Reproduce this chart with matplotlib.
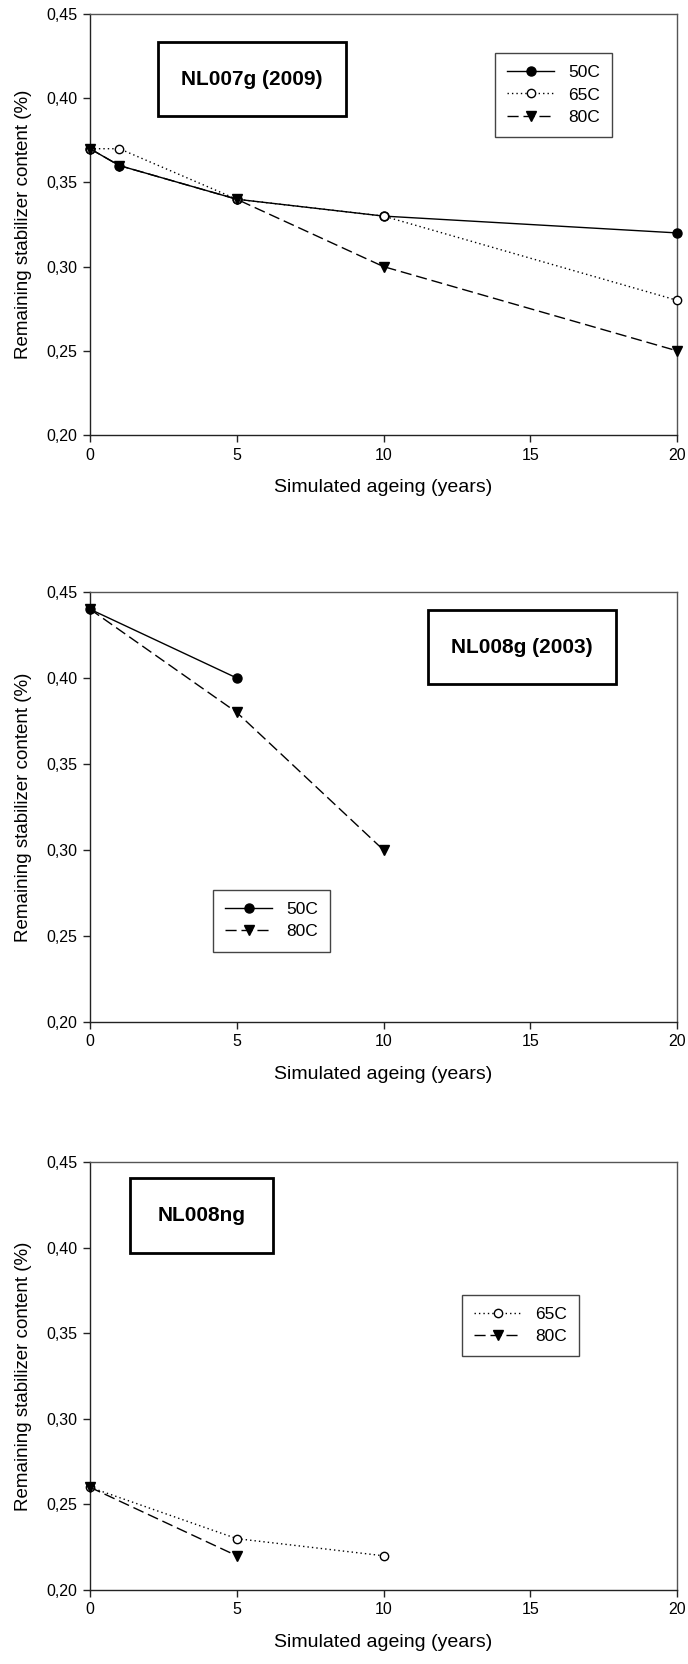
import matplotlib.pyplot as plt
from matplotlib.patches import Rectangle
from matplotlib.ticker import FuncFormatter

plt.rcParams['font.family'] = ['Liberation Sans', 'DejaVu Sans']

# NL007g (2009)
years_a = [0, 1, 5, 10, 20]
a_50C = [0.37, 0.36, 0.34, 0.33, 0.32]
a_65C = [0.37, 0.37, 0.34, 0.33, 0.28]
a_80C = [0.37, 0.36, 0.34, 0.30, 0.25]

# NL008g (2003)
years_b_50C = [0, 5]
b_50C = [0.44, 0.40]
years_b_80C = [0, 5, 10]
b_80C = [0.44, 0.38, 0.30]

# NL008ng
years_c_65C = [0, 5, 10]
c_65C = [0.26, 0.23, 0.22]
years_c_80C = [0, 5]
c_80C = [0.26, 0.22]

x_ticks = [0, 5, 10, 15, 20]
y_ticks = [0.20, 0.25, 0.30, 0.35, 0.40, 0.45]

styles = {
    '50C': dict(color='black', linestyle='-', marker='o', markersize=6.5,
                markerfacecolor='black', markeredgecolor='black'),
    '65C': dict(color='black', linestyle=(0, (1, 2.2)), marker='o', markersize=6,
                markerfacecolor='white', markeredgecolor='black'),
    '80C': dict(color='black', linestyle=(0, (8, 3.5)), marker='v', markersize=7,
                markerfacecolor='black', markeredgecolor='black'),
}

W, H = 688, 1664
fig = plt.figure(figsize=(W / 100, H / 100), dpi=100)


def make_axes(top_px, bottom_px):
    left, right = 90, 677
    return fig.add_axes([left / W, 1 - bottom_px / H, (right - left) / W,
                         (bottom_px - top_px) / H])


def style_axes(ax):
    ax.set_xlim(0, 20)
    ax.set_ylim(0.20, 0.45)
    ax.set_xticks(x_ticks)
    ax.set_yticks(y_ticks)
    ax.yaxis.set_major_formatter(FuncFormatter(lambda v, p: f"{v:.2f}".replace('.', ',')))
    ax.tick_params(direction='out', length=5, width=1, labelsize=11.5, pad=4,
                   top=False, right=False, color='#222222')
    for side in ['left', 'bottom']:
        ax.spines[side].set_color('#222222')
    for side in ['top', 'right']:
        ax.spines[side].set_color('#555555')
    for s in ax.spines.values():
        s.set_linewidth(1.0)
    ax.set_xlabel('Simulated ageing (years)', fontsize=14, labelpad=12)
    ax.set_ylabel('Remaining stabilizer content (%)', fontsize=13.5, labelpad=10)


def title_box(ax, x0, y0, x1, y1, text):
    ax.add_patch(Rectangle((x0, y0), x1 - x0, y1 - y0, transform=ax.transAxes,
                           facecolor='white', edgecolor='black', linewidth=2, zorder=5))
    ax.text((x0 + x1) / 2, (y0 + y1) / 2, text, transform=ax.transAxes,
            ha='center', va='center', fontsize=15, fontweight='bold', zorder=6)


def add_legend(ax, anchor):
    leg = ax.legend(loc='upper left', bbox_to_anchor=anchor, frameon=True,
                    fancybox=False, framealpha=1, edgecolor='#444444',
                    fontsize=12.5, handlelength=2.7, handletextpad=0.8,
                    borderpad=0.7, labelspacing=0.4, borderaxespad=0)
    leg.get_frame().set_linewidth(1.0)


def plot(ax, x, y, key):
    ax.plot(x, y, label=key, linewidth=1, clip_on=False, zorder=3, **styles[key])


# Top panel
ax1 = make_axes(14, 435)
plot(ax1, years_a, a_50C, '50C')
plot(ax1, years_a, a_65C, '65C')
plot(ax1, years_a, a_80C, '80C')
style_axes(ax1)
title_box(ax1, 0.116, 0.758, 0.436, 0.933, 'NL007g (2009)')
add_legend(ax1, (0.690, 0.907))

# Middle panel
ax2 = make_axes(592, 1022)
plot(ax2, years_b_50C, b_50C, '50C')
plot(ax2, years_b_80C, b_80C, '80C')
style_axes(ax2)
title_box(ax2, 0.576, 0.786, 0.896, 0.958, 'NL008g (2003)')
add_legend(ax2, (0.2095, 0.307))

# Bottom panel
ax3 = make_axes(1162, 1590)
plot(ax3, years_c_65C, c_65C, '65C')
plot(ax3, years_c_80C, c_80C, '80C')
style_axes(ax3)
title_box(ax3, 0.068, 0.787, 0.312, 0.963, 'NL008ng')
add_legend(ax3, (0.634, 0.690))

fig.savefig('out.png', dpi=100)
